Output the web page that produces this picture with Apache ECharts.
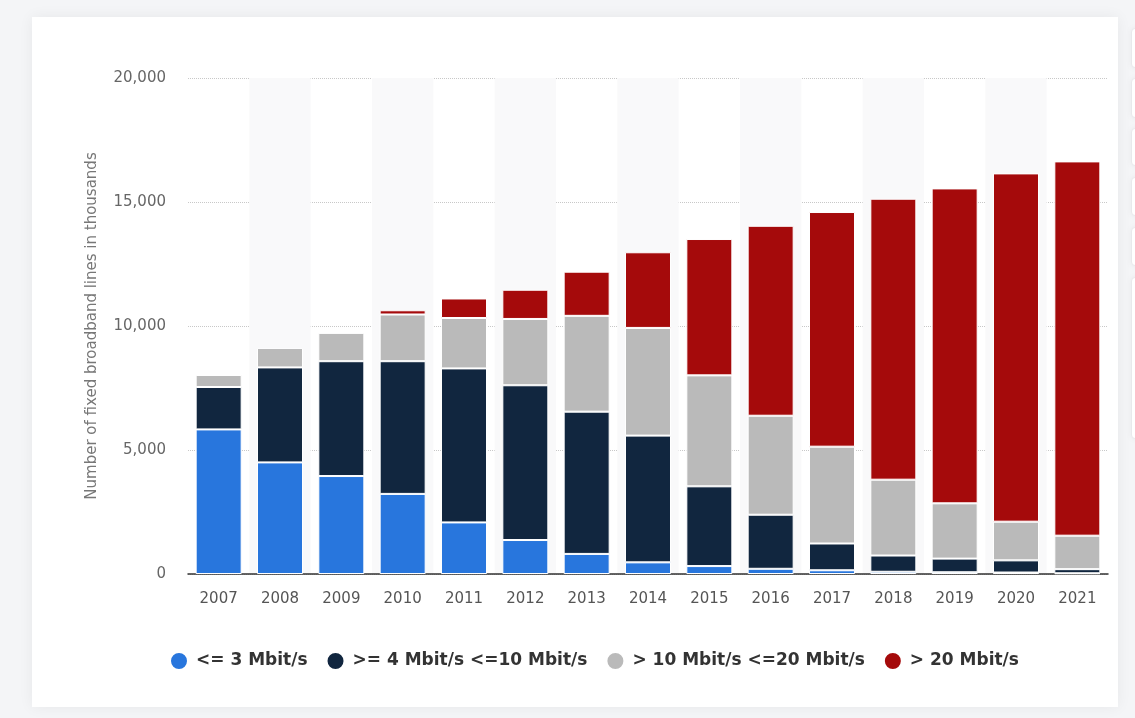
<!DOCTYPE html>
<html>
<head>
<meta charset="utf-8">
<script src="https://cdn.jsdelivr.net/npm/echarts@6/dist/echarts.min.js"></script>
<style>
  html, body { margin: 0; padding: 0; width: 1135px; height: 718px; overflow: hidden; background: #f4f5f7; }
  .card { position: absolute; left: 32px; top: 17px; width: 1086px; height: 690px; background: #fff;
          box-shadow: 0 0 14px rgba(0,0,0,0.06); }
  .side { position: absolute; left: 1131px; width: 20px; background: #fff; border: 1px solid #e8e9ec;
          border-radius: 4px; box-shadow: 0 0 6px rgba(0,0,0,0.05); }
  #chart { position: absolute; left: 0; top: 0; width: 1135px; height: 718px; }
</style>
</head>
<body>
<div class="card"></div>
<div class="side" style="top:28px;height:38px"></div>
<div class="side" style="top:78px;height:38px"></div>
<div class="side" style="top:128px;height:36px"></div>
<div class="side" style="top:177px;height:37px"></div>
<div class="side" style="top:227px;height:37px"></div>
<div class="side" style="top:277px;height:160px"></div>
<div id="chart"></div>
<script>
// Fixed broadband lines by download speed, in thousands
const years = ['2007','2008','2009','2010','2011','2012','2013','2014','2015','2016','2017','2018','2019','2020','2021'];
const upTo3 =      [5830, 4500, 3950, 3230, 2080, 1370,  810,  470,  320,  210,  150,    90,    70,    60,    30];
const from4to10 =  [1710, 3830, 4630, 5350, 6210, 6240, 5735, 5110, 3215, 2180, 1080,   655,   550,   490,   165];
const from10to20 = [ 484,  786, 1141, 1884, 2032, 2674, 3865, 4342, 4475, 3992, 3904,  3058,  2230,  1560,  1350];
const over20 =     [null, null, null,  170,  788, 1178, 1780, 3051, 5497, 7659, 9462, 11329, 12698, 14043, 15092];
const seriesNames = ['<= 3 Mbit/s', '>= 4 Mbit/s <=10 Mbit/s', '> 10 Mbit/s <=20 Mbit/s', '> 20 Mbit/s'];
const seriesColors = ['#2876dd', '#11263f', '#bababa', '#a50a0b'];
const yTitle = 'Number of fixed broadband lines in thousands';

const chart = echarts.init(document.getElementById('chart'), null, { renderer: 'canvas' });
const makeSeries = (name, data, color) => ({
  name, type: 'bar', stack: 'total', data,
  barCategoryGap: '25%',
  itemStyle: { color, borderColor: '#ffffff', borderWidth: 1 },
  emphasis: { disabled: true }
});

chart.setOption({
  animation: false,
  backgroundColor: 'transparent',
  textStyle: { fontFamily: 'DejaVu Sans' },
  grid: { left: 188, right: 27, top: 78, bottom: 144 },
  legend: {
    bottom: 42, left: 164,
    icon: 'circle', itemWidth: 18, itemHeight: 18, itemGap: 18,
    textStyle: { fontFamily: 'DejaVu Sans', fontSize: 17, fontWeight: 'bold', color: '#333', padding: [0, 0, 0, 3] },
    data: seriesNames
  },
  xAxis: {
    type: 'category', data: years,
    axisLine: { show: true, lineStyle: { color: '#333', width: 1.5 } },
    axisTick: { show: false },
    axisLabel: { color: '#555', fontSize: 15, margin: 18 },
    splitArea: { show: true, areaStyle: { color: ['rgba(255,255,255,0)', '#f9f9fa'] } }
  },
  yAxis: {
    type: 'value', min: 0, max: 20000, interval: 5000,
    name: yTitle, nameLocation: 'middle', nameGap: 88,
    nameTextStyle: { color: '#777', fontSize: 15 },
    axisLine: { show: false }, axisTick: { show: false },
    axisLabel: { color: '#666', fontSize: 15, margin: 22,
      formatter: v => v.toLocaleString('en-US') },
    splitLine: { show: true, lineStyle: { color: '#c8c8c8', type: [1, 1], width: 1 } }
  },
  series: [
    makeSeries(seriesNames[0], upTo3, seriesColors[0]),
    makeSeries(seriesNames[1], from4to10, seriesColors[1]),
    makeSeries(seriesNames[2], from10to20, seriesColors[2]),
    makeSeries(seriesNames[3], over20, seriesColors[3])
  ]
});
</script>
</body>
</html>
